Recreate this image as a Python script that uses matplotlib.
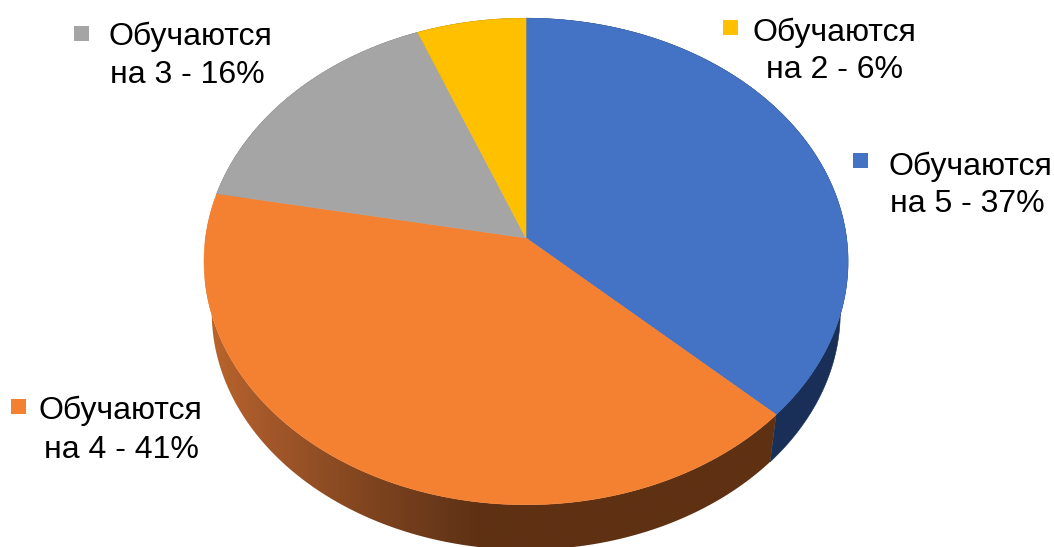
# 3d look pie chart, school grades
import numpy as np
import matplotlib
matplotlib.use('Agg')
import matplotlib.pyplot as plt
from matplotlib.colors import LinearSegmentedColormap
from matplotlib.patches import Polygon, Rectangle

plt.rcParams['font.family'] = ['Liberation Sans', 'DejaVu Sans']

# slices, clockwise from 12 o'clock
grades = ['5', '4', '3', '2']
shares = [37, 41, 16, 6]
top_colors = ['#4472c4', '#f48132', '#a5a5a5', '#ffc000']
side_colors = ['#1a2f57', '#5f3113', '#63636d', '#7f6000']

label_line1 = 'Обучаются'
label_line2 = ['на 5 - 37%', 'на 4 - 41%', 'на 3 - 16%', 'на 2 - 6%']

# pixel places of the labels: marker x, marker y, x1, base1, x2, base2
label_pos = [(853, 153, 888, 175, 890, 212),
             (11, 399, 39, 419, 44, 458),
             (74, 26, 108, 45, 110, 83),
             (723, 20, 752, 41, 766, 78)]

# perspective of the disc
cx, cy = 526, 238
rx, ry = 320.5, 241
p = 0.0965
depth_scale, depth_dy = 0.976, 51.4


def rim(t, scale=1.0, dy=0.0):
    u, v = np.sin(t), np.cos(t)
    d = 1 + p * v
    return cx + scale * rx * u / d, cy + dy - scale * ry * v / d


fig = plt.figure(figsize=(10.54, 5.47), dpi=100)
ax = fig.add_axes([0, 0, 1, 1])
ax.set_xlim(0, 1054)
ax.set_ylim(547, 0)
ax.axis('off')

edges = np.cumsum([0] + shares) / sum(shares) * 2 * np.pi

# side walls first, the top faces cover the back part of them
for i in range(len(shares)):
    t = np.linspace(edges[i], edges[i + 1], 200)
    x1, y1 = rim(t)
    x2, y2 = rim(t, depth_scale, depth_dy)
    pts = np.column_stack([np.r_[x1, x2[::-1]], np.r_[y1, y2[::-1]]])
    if i == 1:
        # orange wall gets lighter to the left
        poly = Polygon(pts, fc='none', ec='none')
        ax.add_patch(poly)
        cmap = LinearSegmentedColormap.from_list('wall', [(0, '#bb652a'), (0.1, '#a4582a'), (0.25, '#844720'),
                                                          (0.4, '#68371a'), (0.46, '#5f3113'), (1, '#5f3113')])
        im = ax.imshow(np.linspace(0, 1, 600)[None, :], cmap=cmap, extent=(205, 800, 550, 200), aspect='auto', zorder=1)
        im.set_clip_path(poly)
    else:
        ax.add_patch(Polygon(pts, fc=side_colors[i], ec=side_colors[i], lw=0.4, zorder=1))

ax.set_xlim(0, 1054)
ax.set_ylim(547, 0)

for i in range(len(shares)):
    t = np.linspace(edges[i], edges[i + 1], 200)
    x, y = rim(t)
    ax.add_patch(Polygon(np.column_stack([np.r_[cx, x], np.r_[cy, y]]), fc=top_colors[i], ec=top_colors[i],
                         lw=0.4, zorder=2))

for i in range(len(shares)):
    mx, my, x1, b1, x2, b2 = label_pos[i]
    ax.add_patch(Rectangle((mx, my), 15, 15, fc=top_colors[i], ec='none', zorder=3))
    ax.text(x1, b1, label_line1, fontsize=23, color='black', va='baseline', ha='left', zorder=3)
    ax.text(x2, b2, label_line2[i], fontsize=23, color='black', va='baseline', ha='left', zorder=3)

fig.savefig('out.png', dpi=100)
